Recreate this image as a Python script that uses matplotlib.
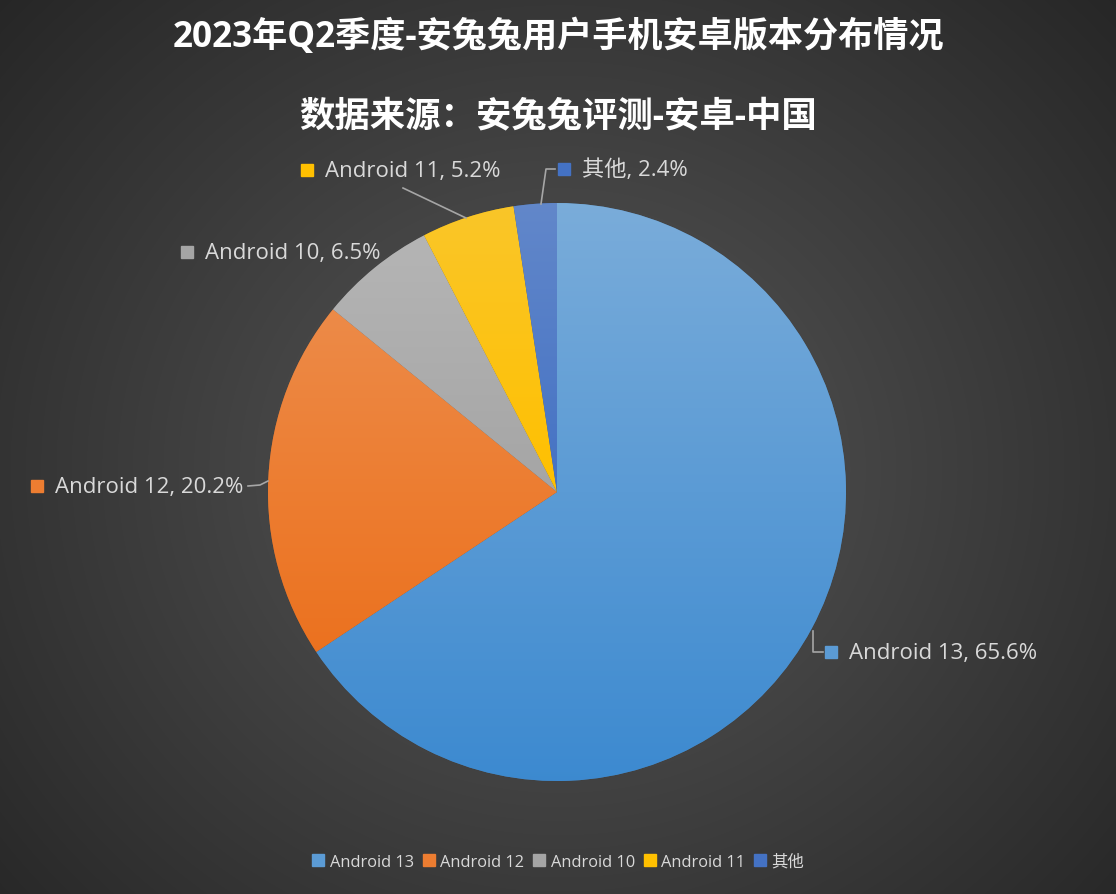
import colorsys
import numpy as np
import matplotlib.pyplot as plt
from matplotlib.colors import to_rgb

plt.rcParams['font.family'] = ['Open Sans', 'Noto Sans CJK SC', 'DejaVu Sans']

title = '2023年Q2季度-安兔兔用户手机安卓版本分布情况'
subtitle = '数据来源：安兔兔评测-安卓-中国'
versions = ['Android 13', 'Android 12', 'Android 10', 'Android 11', '其他']
shares = [65.6, 20.2, 6.5, 5.2, 2.4]
colors = ['#5B9BD5', '#ED7D31', '#A5A5A5', '#FFC000', '#4472C4']

W, H = 1116, 895
# layout (image pixels, y from top)
cx, cy, R = 557, 493, 289
label_xy = [(849, 653), (55, 487), (205, 253), (325, 171), (582, 170)]
leaders = [
    [(813, 632), (813, 653), (823, 653)],
    [(248, 487), (260, 486), (268, 482)],
    None,
    [(403, 189), (466, 219)],
    [(555, 170), (546, 170), (541, 205)],
]


def shade(c, dl, ds):
    h, l, s = colorsys.rgb_to_hls(*to_rgb(c))
    l = min(max(l + dl, 0), 1)
    s = min(max(s * ds, 0), 1)
    return np.array(colorsys.hls_to_rgb(h, l, s))


fig = plt.figure(figsize=(W / 100, H / 100), dpi=100)

# radial background
bg = fig.add_axes([0, 0, 1, 1])
yy, xx = np.mgrid[0:H, 0:W]
d = np.sqrt(((xx - 560) / 760.0) ** 2 + ((yy - 470) / 700.0) ** 2)
d = np.clip(d, 0, 1)
g = 0.345 - (0.345 - 0.15) * d
bg.imshow(np.dstack([g, g, g]), extent=[0, W, 0, H], aspect='auto')
bg.axis('off')

ax = fig.add_axes([0, 0, 1, 1])
ax.patch.set_alpha(0)
wedges, _ = ax.pie(shares, colors=colors, startangle=90, counterclock=False,
                   center=(cx, H - cy), radius=R,
                   wedgeprops=dict(linewidth=0.6, edgecolor=(0.25, 0.25, 0.25, 0.5)))

# Excel-like vertical gradient on every slice: light top, base middle, deeper bottom
t = np.linspace(0, 1, 256)
for w, c in zip(wedges, colors):
    top = shade(c, 0.07, 0.95)
    mid = np.array(to_rgb(c))
    bot = shade(c, -0.07, 1.03)
    rows = np.where(t[:, None] < 0.5,
                    top + (mid - top) * (t[:, None] / 0.5),
                    mid + (bot - mid) * ((t[:, None] - 0.5) / 0.5))
    img = np.repeat(rows[:, None, :], 2, axis=1)
    im = ax.imshow(np.clip(img, 0, 1), extent=[cx - R, cx + R, H - cy - R, H - cy + R],
                   aspect='auto', zorder=1.5)
    im.set_clip_path(w)

# data labels
for name, v, c, (lx, ly), ld in zip(versions, shares, colors, label_xy, leaders):
    ax.plot([lx - 18], [H - ly], marker='s', markersize=9, color=c,
            markeredgecolor=c, zorder=4)
    ax.text(lx, H - ly, f'{name}, {v}%', color='#d9d9d9', fontsize=16,
            va='center', ha='left', zorder=4)
    if ld:
        ax.plot([p[0] for p in ld], [H - p[1] for p in ld], color='#a6a6a6',
                lw=1.2, zorder=3)

ax.set_xlim(0, W)
ax.set_ylim(0, H)
ax.set_aspect('auto')
ax.axis('off')

fig.text(0.5, 1 - 38 / H, title, ha='center', va='center', color='white',
         fontsize=25.3, fontweight='bold')
fig.text(0.5, 1 - 117 / H, subtitle, ha='center', va='center', color='white',
         fontsize=25.5, fontweight='bold')

handles = [plt.Line2D([0], [0], marker='s', color='none', markerfacecolor=c,
                      markeredgecolor=c, markersize=8, label=n)
           for n, c in zip(versions, colors)]
leg = fig.legend(handles=handles, loc='center', bbox_to_anchor=(0.5, 1 - 863 / H),
                 ncol=5, frameon=False, fontsize=11.8, handlelength=0.8,
                 handletextpad=0.3, columnspacing=0.5, labelcolor='#d9d9d9')

fig.savefig('out.png', dpi=100)
